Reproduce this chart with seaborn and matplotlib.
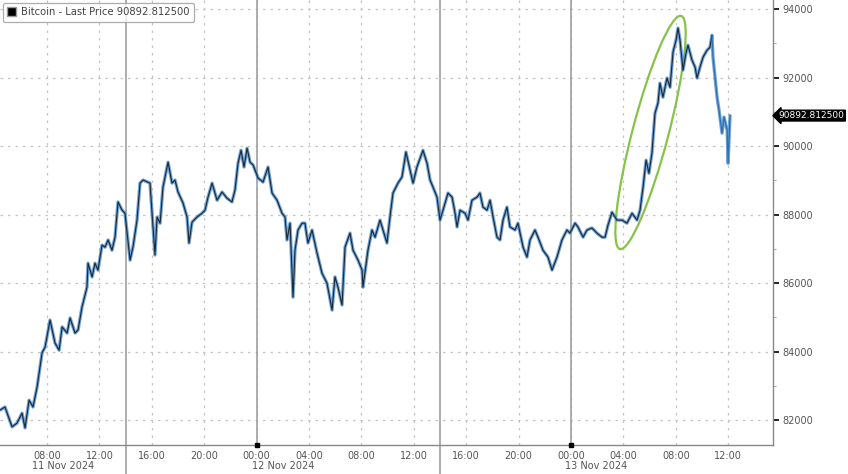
import matplotlib
matplotlib.use("Agg")
import numpy as np
import pandas as pd
import matplotlib.pyplot as plt
import matplotlib.dates as mdates
import seaborn as sns
from matplotlib.patches import Ellipse, Rectangle
from matplotlib.transforms import ScaledTranslation, blended_transform_factory

# ---------------- data (hours since 11 Nov 2024 00:00, price) ----------------
hours = [4.41, 4.79, 5.33, 5.71, 6.09, 6.32, 6.63, 6.93, 7.24, 7.62, 7.85, 8.23, 8.61, 8.92, 9.15, 9.53,
         9.76, 10.14, 10.37, 10.67, 11.05, 11.13, 11.44, 11.66, 11.89, 12.20, 12.43, 12.66, 12.96, 13.19,
         13.42, 13.73, 13.95, 14.34, 14.56, 14.87, 15.10, 15.33, 15.86, 16.24, 16.40, 16.63, 16.85, 17.24,
         17.54, 17.77, 18.00, 18.38, 18.69, 18.84, 19.07, 19.45, 19.83, 20.06, 20.29, 20.60, 20.98, 21.36,
         21.74, 22.12, 22.35, 22.58, 22.81, 23.04, 23.27, 23.50, 23.73, 24.11, 24.49, 24.87, 25.18, 25.56,
         25.94, 26.17, 26.32, 26.55, 26.78, 26.93, 27.16, 27.47, 27.69, 27.92, 28.23, 28.61, 28.99, 29.37,
         29.76, 29.98, 30.21, 30.52, 30.75, 31.13, 31.36, 31.74, 32.05, 32.12, 32.50, 32.81, 33.04, 33.42,
         33.65, 33.95, 34.18, 34.41, 34.79, 35.10, 35.40, 35.71, 35.94, 36.24, 36.70, 37.01, 37.24, 37.47,
         37.77, 38.00, 38.23, 38.61, 38.92, 39.15, 39.30, 39.53, 39.91, 40.14, 40.44, 40.82, 41.05, 41.28,
         41.59, 41.82, 42.05, 42.35, 42.58, 42.81, 43.11, 43.34, 43.73, 43.95, 44.34, 44.64, 44.87, 45.25,
         45.48, 45.86, 46.24, 46.55, 46.93, 47.31, 47.69, 47.92, 48.31, 48.53, 48.92, 49.22, 49.60, 49.98,
         50.37, 50.60, 50.82, 51.13, 51.51, 51.89, 52.27, 52.66, 53.04, 53.27, 53.50, 53.73, 53.95, 54.18,
         54.41, 54.64, 54.79, 55.02, 55.33, 55.56, 55.79, 56.02, 56.17, 56.32, 56.55, 56.78, 56.93, 57.24,
         57.47, 57.62, 57.85, 58.08, 58.38, 58.61, 58.76, 58.84, 59.15, 59.30, 59.53, 59.68, 59.92, 59.99,
         60.14]
prices = [82290, 82380, 81800, 81910, 82200, 81770, 82580, 82380, 82960, 83960,
          84130, 84920, 84250, 84040, 84720, 84540, 84980, 84540, 84630, 85300,
          85880, 86580, 86180, 86580, 86380, 87110, 87050, 87260, 86960, 87340,
          88370, 88130, 88040, 86670, 87050, 87840, 88920, 89010, 88920, 86820,
          87930, 87750, 88800, 89530, 88920, 89010, 88660, 88340, 87930, 87170,
          87780, 87930, 88040, 88130, 88510, 88920, 88420, 88660, 88480, 88370,
          88720, 89500, 89880, 89390, 89940, 89530, 89450, 89070, 88950, 89390,
          88630, 88420, 88040, 87930, 87260, 87750, 85590, 86960, 87550, 87750,
          87750, 87170, 87550, 86880, 86290, 86000, 85210, 86180, 85880, 85360,
          87050, 87460, 86960, 86670, 86380, 85880, 86960, 87550, 87340, 87840,
          87550, 87170, 87930, 88630, 88920, 89100, 89830, 89300, 88920, 89390,
          89880, 89500, 89010, 88800, 88510, 87840, 88130, 88630, 88510, 88040,
          87640, 88130, 88040, 87840, 88420, 88510, 88630, 88220, 88130, 88420,
          87930, 87340, 87260, 87840, 88220, 87640, 87550, 87750, 87050, 86760,
          87260, 87550, 87340, 86960, 86760, 86380, 86760, 87260, 87550, 87460,
          87750, 87640, 87340, 87550, 87610, 87460, 87340, 87340, 87690, 88070,
          87840, 87840, 87750, 88040, 87840, 88130, 88800, 89590, 89210, 89800,
          90960, 91260, 91840, 91430, 91990, 91720, 92750, 93100, 93450, 93100,
          92220, 92720, 92950, 92510, 92310, 91990, 92310, 92600, 92800, 92890,
          93240, 92600, 91430, 91050, 90380, 90850, 90470, 89500, 90892.8125]
assert len(hours) == len(prices)

series_name = "Bitcoin - Last Price"
last_price = prices[-1]
y_ticks = [82000, 84000, 86000, 88000, 90000, 92000, 94000]
day_labels = ["11 Nov 2024", "12 Nov 2024", "13 Nov 2024"]
day_label_hours = [9.2, 26.0, 49.9]
separator_hours = [14.0, 38.0]      # session separators
day_break_hours = [24.0, 48.0]      # midnight lines
x_range_hours = (4.41, 63.42)
y_range = (81270, 94270)
highlight_center = (54.07, 90400)   # ellipse centre (hours, price)
recent_from_hour = 58.76            # latest leg drawn in lighter blue

base = pd.Timestamp("2024-11-11")
def ts(h):
    return base + pd.to_timedelta(h, unit="h")

df = pd.DataFrame({"time": ts(np.array(hours)), "price": prices})
mask_recent = np.array(hours) >= recent_from_hour
df_old = df[~mask_recent | (np.arange(len(df)) == np.argmax(mask_recent))]
df_recent = df[mask_recent]

# ---------------- figure ----------------
sns.set_style("white")
plt.rcParams["font.family"] = ["DejaVu Sans"]
fig = plt.figure(figsize=(8.48, 4.74), dpi=100)
ax = fig.add_axes([0.0, 29 / 474, 773 / 848, 445 / 474])

sns.lineplot(data=df, x="time", y="price", ax=ax, color="#4f8fd0", lw=2.4, alpha=0.8)
sns.lineplot(data=df_old, x="time", y="price", ax=ax, color="#1c2b3a", lw=0.85)
sns.lineplot(data=df_recent, x="time", y="price", ax=ax, color="#2f6fae", lw=0.9)

ax.set_xlim(ts(x_range_hours[0]), ts(x_range_hours[1]))
ax.set_ylim(*y_range)
ax.set_xlabel("")
ax.set_ylabel("")

# x axis
ax.xaxis.set_major_locator(mdates.HourLocator(byhour=[0, 4, 8, 12, 16, 20]))
ax.xaxis.set_minor_locator(mdates.HourLocator(byhour=[2, 6, 10, 14, 18, 22]))
ax.xaxis.set_major_formatter(mdates.DateFormatter("%H:%M"))
ax.tick_params(axis="x", which="major", length=2, width=0.8, color="#999999",
               labelsize=7, labelcolor="#555555", pad=2)
ax.tick_params(axis="x", which="minor", length=2, width=0.8, color="#bbbbbb")

# y axis on the right
ax.yaxis.tick_right()
ax.set_yticks(y_ticks)
ax.set_yticklabels([str(v) for v in y_ticks])
ax.yaxis.set_minor_locator(matplotlib.ticker.MultipleLocator(1000))
ax.tick_params(axis="y", which="major", length=4, width=1.2, color="black",
               labelsize=7, labelcolor="#555555", pad=3)
ax.tick_params(axis="y", which="minor", length=2, width=0.8, color="#aaaaaa")

# grid
ax.grid(True, which="major", axis="both", linestyle=(0, (2, 4)), color="#c4c4c4", lw=0.9)
for s in ["left", "top"]:
    ax.spines[s].set_visible(False)
for s in ["right", "bottom"]:
    ax.spines[s].set_color("#888888")
    ax.spines[s].set_linewidth(1.0)

for h in day_break_hours:
    ax.axvline(ts(h), color="#a0a0a0", lw=1.2, zorder=1)
    ax.plot([ts(h)], [y_range[0]], marker="s", ms=2.5, color="black", clip_on=False, zorder=5)
for h in separator_hours:
    ax.axvline(ts(h), ymin=-0.07, ymax=1, color="#a0a0a0", lw=1.2, zorder=1, clip_on=False)

# day labels
trans = blended_transform_factory(ax.transData, ax.transAxes)
for lab, h in zip(day_labels, day_label_hours):
    ax.text(mdates.date2num(ts(h)), -0.047, lab, transform=trans, ha="center", va="center",
            fontsize=7, color="#555555")

# legend box
handle = Rectangle((0, 0), 1, 1, facecolor="black", edgecolor="#999999")
leg = ax.legend(handles=[handle], labels=[f"{series_name} {last_price:.6f}"],
                loc="upper left", bbox_to_anchor=(0.0, 1.0), frameon=True, fancybox=True,
                edgecolor="#999999", fontsize=7.2, handlelength=0.9, handleheight=0.9,
                handletextpad=0.5, borderpad=0.45, borderaxespad=0.25)
leg.get_frame().set_linewidth(0.9)
for t in leg.get_texts():
    t.set_color("#444444")

# price tag
ax.annotate(f"{last_price:.6f}", xy=(1.0, last_price),
            xycoords=blended_transform_factory(ax.transAxes, ax.transData),
            xytext=(4, 0), textcoords="offset points", ha="left", va="center",
            fontsize=6.5, color="white", annotation_clip=False,
            bbox=dict(boxstyle="larrow,pad=0.1", fc="black", ec="black"))

# highlight ellipse (size in inches, centre in data coords)
cx = mdates.date2num(ts(highlight_center[0]))
cy = highlight_center[1]
ell = Ellipse((0, 0), width=2.41, height=0.36, angle=75.3, fill=False,
              edgecolor="#86c34a", lw=1.6,
              transform=fig.dpi_scale_trans + ScaledTranslation(cx, cy, ax.transData))
ax.add_patch(ell)

fig.savefig("out.png", dpi=100)
